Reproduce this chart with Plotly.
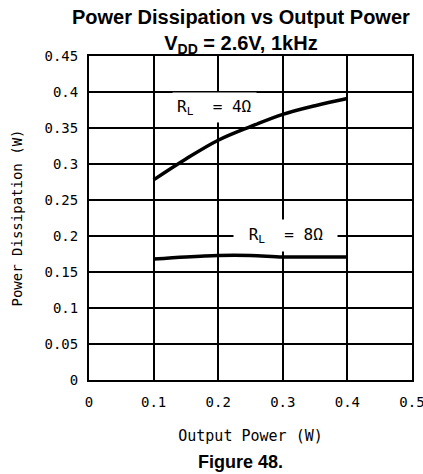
import plotly.graph_objects as go

# output power (W)
p_out = [0.1, 0.15, 0.2, 0.25, 0.3, 0.35, 0.4]
# power dissipation (W)
pd_4ohm = [0.278, 0.307, 0.333, 0.352, 0.369, 0.381, 0.391]
pd_8ohm = [0.168, 0.171, 0.173, 0.173, 0.171, 0.171, 0.171]

x_ticks = [0, 0.1, 0.2, 0.3, 0.4, 0.5]
x_labels = ['0', '0.1', '0.2', '0.3', '0.4', '0.5']
y_ticks = [0, 0.05, 0.1, 0.15, 0.2, 0.25, 0.3, 0.35, 0.4, 0.45]
y_labels = ['0', '0.05', '0.1', '0.15', '0.2', '0.25', '0.3', '0.35', '0.4', '0.45']

mono = 'DejaVu Sans Mono'
bold = 'Liberation Sans'

fig = go.Figure()
fig.add_trace(go.Scatter(x=p_out, y=pd_4ohm, mode='lines', line_shape='spline',
                         line=dict(color='black', width=3.5), showlegend=False))
fig.add_trace(go.Scatter(x=p_out, y=pd_8ohm, mode='lines', line_shape='spline',
                         line=dict(color='black', width=3.5), showlegend=False))

# curve labels, white box hides the grid behind them
fig.add_annotation(x=0.195, y=0.378, text='R<sub>L</sub>  = 4Ω', showarrow=False,
                   bgcolor='white', borderpad=4, font=dict(family=mono, size=16, color='black'))
fig.add_annotation(x=0.304, y=0.201, text=' R<sub>L</sub>  = 8Ω ', showarrow=False,
                   bgcolor='white', borderpad=5, font=dict(family=mono, size=16, color='black'))

# title and caption as paper annotations
fig.add_annotation(text='<b>Power Dissipation vs Output Power<br>V<sub>DD</sub> = 2.6V, 1kHz</b>',
                   xref='paper', yref='paper', x=0.47, y=1.16, xanchor='center', yanchor='top',
                   showarrow=False, font=dict(family=bold, size=20, color='black'))
fig.add_annotation(text='<b>Figure 48.</b>', xref='paper', yref='paper', x=0.47, y=-0.253,
                   xanchor='center', yanchor='middle', showarrow=False,
                   font=dict(family=bold, size=18, color='black'))

fig.update_layout(
    width=423, height=474,
    margin=dict(l=89, r=11, t=56, b=94),
    paper_bgcolor='white', plot_bgcolor='white',
    xaxis=dict(range=[0, 0.5], tickmode='array', tickvals=x_ticks, ticktext=x_labels,
               showgrid=True, gridcolor='black', gridwidth=1.5,
               showline=True, linecolor='black', linewidth=2, mirror=True,
               ticks='', zeroline=False, automargin=False, ticklabelstandoff=8,
               ticklabeloverflow='allow',
               tickfont=dict(family=mono, size=14, color='black'),
               title=dict(text='Output Power (W)', standoff=22,
                          font=dict(family=mono, size=15, color='black'))),
    yaxis=dict(range=[0, 0.45], tickmode='array', tickvals=y_ticks, ticktext=y_labels,
               showgrid=True, gridcolor='black', gridwidth=1.5,
               showline=True, linecolor='black', linewidth=2, mirror=True,
               ticks='', zeroline=False, automargin=False, ticklabelstandoff=6,
               tickfont=dict(family=mono, size=14, color='black'),
               title=dict(text='Power Dissipation (W)', standoff=19,
                          font=dict(family=mono, size=14, color='black'))),
)

# drop the default 8px body margin so the figure sits at the window corner
fig.write_html("out.html", config={'displayModeBar': False},
               post_script="document.body.style.margin='0';")
